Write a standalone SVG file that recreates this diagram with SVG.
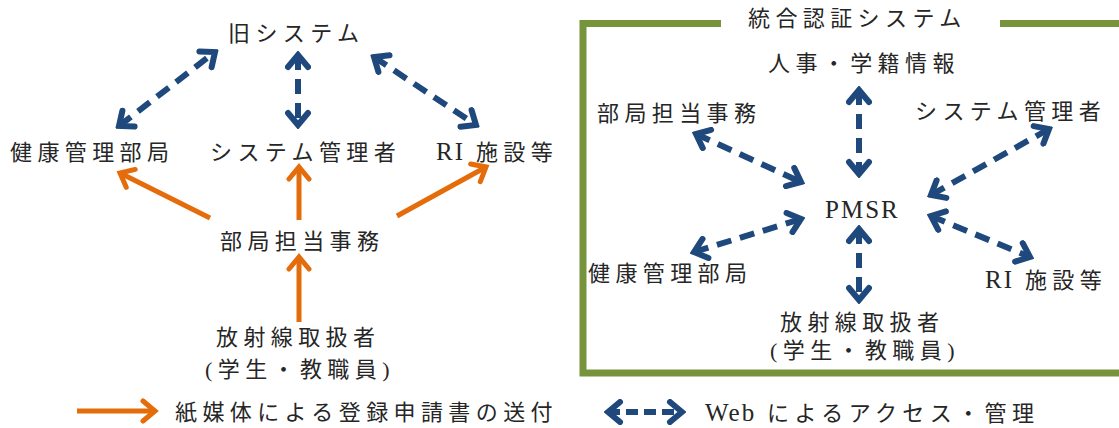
<svg xmlns="http://www.w3.org/2000/svg" width="1119" height="428" viewBox="0 0 1119 428">
<defs>
<style>
text{font-family:"Liberation Serif","Noto Sans CJK JP",serif;font-size:22px;fill:#262626;letter-spacing:5.4px}
.lat{font-family:"Liberation Serif","DejaVu Serif",serif;font-size:25px;letter-spacing:2px}
.blue{stroke:#1f497d;stroke-width:6;fill:none;stroke-dasharray:15 9}
.org{stroke:#e46c0a;stroke-width:5;fill:none}
.frame{stroke:#77933c;stroke-width:7;fill:none}
</style>
<marker id="bh" viewBox="-16 -13 20 26" refX="0" refY="0" markerWidth="20" markerHeight="26" markerUnits="userSpaceOnUse" orient="auto-start-reverse">
<path d="M-12,-10 L0,0 L-12,10" fill="none" stroke="#1f497d" stroke-width="6" stroke-linecap="round" stroke-linejoin="miter"/>
</marker>
<marker id="oh" viewBox="-16 -13 20 26" refX="0" refY="0" markerWidth="20" markerHeight="26" markerUnits="userSpaceOnUse" orient="auto">
<path d="M-12,-10 L0,0 L-12,10" fill="none" stroke="#e46c0a" stroke-width="5" stroke-linecap="round" stroke-linejoin="miter"/>
</marker>
</defs>
<rect width="1119" height="428" fill="#fff"/>

<g id="frame">
<path class="frame" d="M721,23.5 H583 V373 H1125"/>
<path class="frame" d="M1000,23.5 H1125"/>
</g>

<g id="connectors">
<line class="blue" x1="119" y1="126" x2="215" y2="52" marker-start="url(#bh)" marker-end="url(#bh)"/>
<line class="blue" x1="298" y1="55" x2="298" y2="125" marker-start="url(#bh)" marker-end="url(#bh)"/>
<line class="blue" x1="374" y1="57" x2="476" y2="125" marker-start="url(#bh)" marker-end="url(#bh)"/>
<line class="org" x1="210" y1="218" x2="120" y2="173" marker-end="url(#oh)"/>
<line class="org" x1="299" y1="220" x2="299" y2="167" marker-end="url(#oh)"/>
<line class="org" x1="397" y1="216" x2="486" y2="167" marker-end="url(#oh)"/>
<line class="org" x1="299" y1="322" x2="299" y2="257" marker-end="url(#oh)"/>

<line class="blue" x1="859" y1="90" x2="859" y2="174" marker-start="url(#bh)" marker-end="url(#bh)"/>
<line class="blue" x1="696" y1="134" x2="801" y2="182" marker-start="url(#bh)" marker-end="url(#bh)"/>
<line class="blue" x1="1049" y1="129" x2="931" y2="195" marker-start="url(#bh)" marker-end="url(#bh)"/>
<line class="blue" x1="694" y1="252" x2="801" y2="219" marker-start="url(#bh)" marker-end="url(#bh)"/>
<line class="blue" x1="859" y1="229" x2="859" y2="300" marker-start="url(#bh)" marker-end="url(#bh)"/>
<line class="blue" x1="931" y1="216" x2="1030" y2="257" marker-start="url(#bh)" marker-end="url(#bh)"/>

<line class="org" x1="77" y1="411" x2="155" y2="411" marker-end="url(#oh)"/>
<line class="blue" x1="608" y1="412" x2="682" y2="412" style="stroke-dasharray:12 6" marker-start="url(#bh)" marker-end="url(#bh)"/>
</g>

<g id="old-system"><text x="228" y="41">旧システム</text></g>
<g id="old-health"><text x="10" y="160">健康管理部局</text></g>
<g id="old-sysadmin"><text x="210" y="160">システム管理者</text></g>
<g id="old-ri"><text x="436" y="160"><tspan class="lat">RI</tspan> 施設等</text></g>
<g id="old-dept"><text x="220" y="249">部局担当事務</text></g>
<g id="old-user"><text x="216" y="345">放射線取扱者</text><text x="205" y="377">(学生・教職員)</text></g>

<g id="new-title"><text x="748" y="26">統合認証システム</text></g>
<g id="new-hr"><text x="768" y="71">人事・学籍情報</text></g>
<g id="new-dept"><text x="597" y="121">部局担当事務</text></g>
<g id="new-sysadmin"><text x="915" y="119">システム管理者</text></g>
<g id="new-pmsr"><text class="lat" x="825" y="218">PMSR</text></g>
<g id="new-health"><text x="588" y="281">健康管理部局</text></g>
<g id="new-ri"><text x="985" y="288"><tspan class="lat">RI</tspan> 施設等</text></g>
<g id="new-user"><text x="780" y="330">放射線取扱者</text><text x="770" y="358">(学生・教職員)</text></g>

<g id="legend">
<text x="175" y="420">紙媒体による登録申請書の送付</text>
<text x="705" y="421"><tspan class="lat">Web</tspan> によるアクセス・管理</text>
</g>
</svg>
